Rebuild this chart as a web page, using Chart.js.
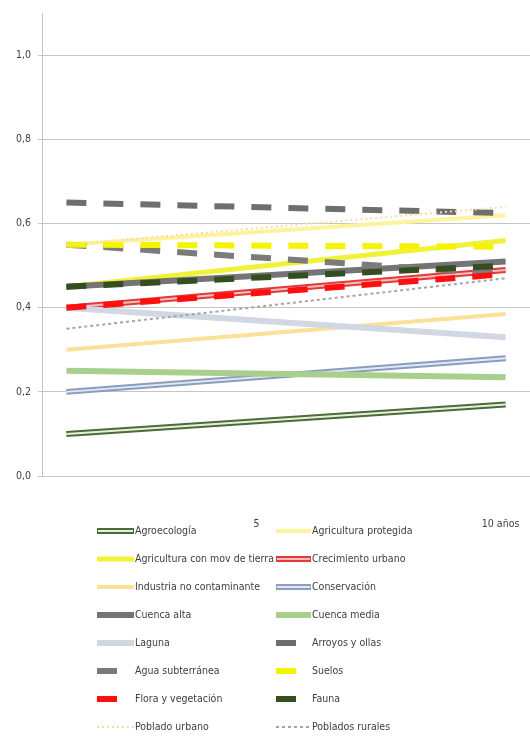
<!DOCTYPE html>
<html>
<head>
<meta charset="utf-8">
<script src="https://cdn.jsdelivr.net/npm/chart.js@4/dist/chart.umd.min.js"></script>
<style>
  html, body { margin: 0; padding: 0; background: #ffffff; }
  #wrap { width: 530px; height: 740px; }
</style>
</head>
<body>
<div id="wrap"><canvas id="chart" width="530" height="740"></canvas></div>
<script>
// Horizon in years; only the 5th and 10th year carry a visible label
const yearLabels = ['1', '2', '3', '4', '5', '6', '7', '8', '9', '10 años'];
const shownYears = ['5', '10 años'];

const seriesNames = [
  'Agroecología', 'Agricultura protegida',
  'Agricultura con mov de tierra', 'Crecimiento urbano',
  'Industria no contaminante', 'Conservación',
  'Cuenca alta', 'Cuenca media',
  'Laguna', 'Arroyos y ollas',
  'Agua subterránea', 'Suelos',
  'Flora y vegetación', 'Fauna',
  'Poblado urbano', 'Poblados rurales'
];

// Value in year 1 and value in year 10 for each series
const startValues = [0.10, 0.55, 0.45, 0.40, 0.30, 0.20, 0.45, 0.25, 0.40, 0.65, 0.55, 0.55, 0.40, 0.45, 0.55, 0.35];
const endValues   = [0.17, 0.62, 0.56, 0.49, 0.385, 0.28, 0.51, 0.235, 0.33, 0.625, 0.48, 0.545, 0.48, 0.50, 0.64, 0.47];

const yTickStep = 0.2;
const yTickMax = 1.0;

// Line appearance per series (same order as seriesNames)
const DASH = [20, 17];
const seriesStyles = [
  { color: '#4d6a38', width: 6, inner: '#e4f1da' },
  { color: '#fcf39c', width: 4 },
  { color: '#f0f23a', width: 5 },
  { color: '#e23a3a', width: 6, inner: '#f7bcbc' },
  { color: '#fbe09a', width: 4 },
  { color: '#8a9dbd', width: 6, inner: '#e3e9f4' },
  { color: '#747474', width: 6 },
  { color: '#a9cf8d', width: 6 },
  { color: '#d1d8e3', width: 6 },
  { color: '#6e6e6e', width: 6, dash: DASH },
  { color: '#7b7b7b', width: 6, dash: DASH },
  { color: '#f4f400', width: 6, dash: DASH },
  { color: '#ff1010', width: 6, dash: DASH },
  { color: '#334f22', width: 6, dash: DASH },
  { color: '#f8dca6', width: 2, dash: [2, 3] },
  { color: '#a4a4a4', width: 2, dash: [3, 3] }
];

const FONT = '"Liberation Sans Narrow", "Arial Narrow", "DejaVu Sans Condensed", "Liberation Sans", sans-serif';

function seriesData(i) {
  const d = yearLabels.map(() => null);
  d[0] = startValues[i];
  d[d.length - 1] = endValues[i];
  return d;
}

const datasets = [];
seriesNames.forEach((name, i) => {
  const s = seriesStyles[i];
  datasets.push({
    label: name,
    data: seriesData(i),
    borderColor: s.color,
    borderWidth: s.width,
    borderDash: s.dash || [],
    borderCapStyle: 'butt',
    pointRadius: 0,
    spanGaps: true,
    tension: 0,
    fill: false,
    order: 200 - 2 * i
  });
  if (s.inner) {
    datasets.push({
      label: name + ' (centro)',
      data: seriesData(i),
      borderColor: s.inner,
      borderWidth: 2,
      borderCapStyle: 'butt',
      pointRadius: 0,
      spanGaps: true,
      tension: 0,
      fill: false,
      order: 200 - 2 * i - 1
    });
  }
});

// Two-column legend drawn under the plot
const legendPlugin = {
  id: 'twoColumnLegend',
  afterDraw(chart) {
    const ctx = chart.ctx;
    const rowY0 = 531, rowStep = 28.0;
    const cols = [
      { x0: 97, x1: 134, tx: 135 },
      { x0: 276, x1: 311, tx: 312 }
    ];
    ctx.save();
    ctx.font = '10.5px ' + FONT;
    ctx.textBaseline = 'middle';
    ctx.textAlign = 'left';
    seriesNames.forEach((name, i) => {
      const s = seriesStyles[i];
      const c = cols[i % 2];
      const y = rowY0 + Math.floor(i / 2) * rowStep;
      ctx.lineCap = 'butt';
      ctx.setLineDash(s.dash || []);
      ctx.lineDashOffset = 0;
      ctx.strokeStyle = s.color;
      ctx.lineWidth = s.width;
      ctx.beginPath();
      ctx.moveTo(c.x0, y);
      ctx.lineTo(c.x1, y);
      ctx.stroke();
      if (s.inner) {
        ctx.setLineDash([]);
        ctx.strokeStyle = s.inner;
        ctx.lineWidth = 2;
        ctx.beginPath();
        ctx.moveTo(c.x0 + 1, y);
        ctx.lineTo(c.x1 - 1, y);
        ctx.stroke();
      }
      ctx.setLineDash([]);
      ctx.fillStyle = '#404040';
      ctx.fillText(name, c.tx, y);
    });
    ctx.restore();
  }
};

new Chart(document.getElementById('chart'), {
  type: 'line',
  data: { labels: yearLabels, datasets },
  plugins: [legendPlugin],
  options: {
    responsive: false,
    animation: false,
    devicePixelRatio: 1,
    layout: { padding: { top: 6, right: 0, bottom: 0, left: 0 } },
    plugins: {
      legend: { display: false },
      tooltip: { enabled: false }
    },
    scales: {
      x: {
        type: 'category',
        offset: true,
        grid: { display: false, drawTicks: false },
        border: { display: false },
        ticks: {
          autoSkip: false,
          maxRotation: 0,
          padding: 42,
          labelOffset: -5,
          color: '#404040',
          font: { family: FONT, size: 10.5 },
          callback: function (v, idx) {
            const lab = yearLabels[idx];
            return shownYears.includes(lab) ? lab : '';
          }
        },
        afterFit(scale) {
          scale.height = 264;
          scale.paddingLeft = 0;
          scale.paddingRight = 0;
        }
      },
      y: {
        min: 0,
        max: 1.1,
        grid: { color: '#c4c4c4', lineWidth: 1, tickLength: 4 },
        border: { color: '#c4c4c4' },
        ticks: {
          stepSize: yTickStep,
          includeBounds: false,
          padding: 7,
          color: '#404040',
          font: { family: FONT, size: 10.5 },
          callback: v => (v <= yTickMax + 1e-9 ? v.toFixed(1).replace('.', ',') : '')
        },
        afterFit(scale) { scale.width = 42; }
      }
    }
  }
});
</script>
</body>
</html>
